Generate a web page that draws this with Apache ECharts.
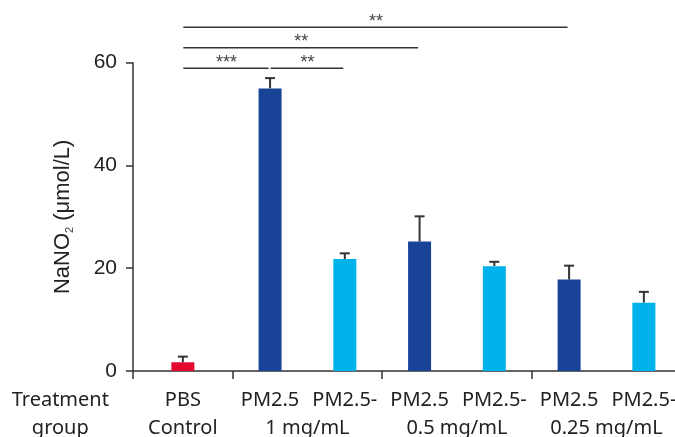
<!DOCTYPE html>
<html>
<head>
<meta charset="utf-8">
<script src="https://cdn.jsdelivr.net/npm/echarts@6/dist/echarts.min.js"></script>
<style>
html,body{margin:0;padding:0;background:#fff;}
#chart{width:675px;height:437px;}
</style>
</head>
<body>
<div id="chart"></div>
<script>
// ---- data ----
const categories = ['PBS Control', 'PM2.5 1 mg/mL', 'PM2.5- 1 mg/mL', 'PM2.5 0.5 mg/mL', 'PM2.5- 0.5 mg/mL', 'PM2.5 0.25 mg/mL', 'PM2.5- 0.25 mg/mL'];
const values = [1.7, 55.0, 21.8, 25.2, 20.4, 17.8, 13.3];
const errors = [1.1, 2.0, 1.1, 4.9, 0.85, 2.7, 2.1];
const yTicks = [0, 20, 40, 60];
const labelLine1 = ['PBS', 'PM2.5', 'PM2.5-', 'PM2.5', 'PM2.5-', 'PM2.5', 'PM2.5-'];
const labelLine2 = ['Control', '1 mg/mL', '0.5 mg/mL', '0.25 mg/mL'];
const axisTitle = 'Treatment\ngroup';
const sigFrom = [0, 0, 0, 1];
const sigTo = [5, 3, 1, 2];
const sigLevel = [66.9, 62.9, 58.9, 58.9];
const sigText = ['**', '**', '***', '**'];

// ---- layout / style (not data) ----
const N_SLOTS = 45;
const SLOT_PX = 12.46;
const BAR_SLOT = [4, 11, 17, 23, 29, 35, 41];
const LINE2_SLOT = [4, 14, 26, 38];
const TICK_SLOT = [0, 8, 20, 32];
const BAR_COLORS = ['#E3062F', '#184396', '#00B2EB', '#184396', '#00B2EB', '#184396', '#00B2EB'];
const AXIS_COLOR = '#333';
const TEXT_COLOR = '#222';

const slots = Array.from({length: N_SLOTS}, (_, i) => String(i));
const line1Map = {}; BAR_SLOT.forEach((s, i) => line1Map[s] = labelLine1[i]);
const line2Map = {}; LINE2_SLOT.forEach((s, i) => line2Map[s] = labelLine2[i]);

const barData = slots.map(() => '-');
BAR_SLOT.forEach((s, i) => {
  barData[s] = {value: values[i], name: categories[i], itemStyle: {color: BAR_COLORS[i]}};
});
const errData = values.map((v, i) => [BAR_SLOT[i], v, errors[i]]);
const sigData = sigFrom.map((f, i) => [BAR_SLOT[f], BAR_SLOT[sigTo[i]], sigLevel[i]]);

const chart = echarts.init(document.getElementById('chart'), null, {renderer: 'canvas'});
const xLabelFont = {fontFamily: 'Noto Sans', fontSize: 20, color: TEXT_COLOR, lineHeight: 28};

chart.setOption({
  animation: false,
  backgroundColor: '#fff',
  grid: {left: 133, top: 62.7, height: 308.3, width: SLOT_PX * (N_SLOTS - 1), containLabel: false, outerBoundsMode: 'none'},
  xAxis: [{
    type: 'category', data: slots, boundaryGap: false, position: 'bottom',
    axisLine: {lineStyle: {color: AXIS_COLOR, width: 1.5}},
    axisTick: {show: true, length: 8, interval: (idx) => TICK_SLOT.includes(idx), lineStyle: {color: AXIS_COLOR, width: 1.5}},
    axisLabel: Object.assign({interval: 0, margin: 15, formatter: (v, idx) => line1Map[idx] || ''}, xLabelFont),
    splitLine: {show: false}
  }, {
    type: 'category', data: slots, boundaryGap: false, position: 'bottom',
    axisLine: {show: false}, axisTick: {show: false},
    axisLabel: Object.assign({interval: 0, margin: 43, formatter: (v, idx) => line2Map[idx] || ''}, xLabelFont),
    splitLine: {show: false}
  }],
  yAxis: {
    type: 'value', min: yTicks[0], max: yTicks[yTicks.length - 1], interval: yTicks[1] - yTicks[0],
    axisLine: {show: true, lineStyle: {color: AXIS_COLOR, width: 1.5}},
    axisTick: {show: true, length: 7, lineStyle: {color: AXIS_COLOR, width: 1.5}},
    axisLabel: {margin: 16, fontFamily: 'Liberation Sans', fontSize: 21, color: TEXT_COLOR},
    splitLine: {show: false},
    name: '{a|NaNO}{s|2}{a| (μmol/L)}',
    nameLocation: 'middle', nameGap: 44, nameRotate: 90,
    nameTextStyle: {
      rich: {
        a: {fontFamily: 'Liberation Sans', fontSize: 22, color: TEXT_COLOR, lineHeight: 24, verticalAlign: 'top', padding: [0, 0, 9, 0]},
        s: {fontFamily: 'Liberation Sans', fontSize: 11, color: '#444', lineHeight: 12, verticalAlign: 'bottom'}
      }
    }
  },
  graphic: [{
    type: 'text', x: 60.3, y: 386.6,
    style: {text: axisTitle, fontFamily: 'Noto Sans', fontSize: 20, lineHeight: 28, fill: TEXT_COLOR, align: 'center', verticalAlign: 'top'}
  }],
  series: [{
    type: 'bar', xAxisIndex: 0, data: barData, barWidth: 23, barGap: '-100%'
  }, {
    type: 'custom', xAxisIndex: 0, clip: false, data: errData,
    renderItem: (params, api) => {
      const x = api.value(0), v = api.value(1), e = api.value(2);
      const base = api.coord([x, v]);
      const top = api.coord([x, v + e]);
      const st = {stroke: AXIS_COLOR, lineWidth: 2};
      return {type: 'group', children: [
        {type: 'line', shape: {x1: base[0], y1: base[1], x2: top[0], y2: top[1]}, style: st},
        {type: 'line', shape: {x1: top[0] - 5, y1: top[1], x2: top[0] + 5, y2: top[1]}, style: st}
      ]};
    }
  }, {
    type: 'custom', xAxisIndex: 0, clip: false, data: sigData,
    renderItem: (params, api) => {
      const a = api.coord([api.value(0), api.value(2)]);
      const b = api.coord([api.value(1), api.value(2)]);
      const x1 = a[0] + 0.5, x2 = b[0] - 1.5;
      return {type: 'group', children: [
        {type: 'line', shape: {x1: x1, y1: a[1], x2: x2, y2: a[1]}, style: {stroke: '#333', lineWidth: 1.5}},
        {type: 'text', x: (a[0] + b[0]) / 2, y: a[1] + 3.5,
         style: {text: sigText[params.dataIndex], fontFamily: 'Liberation Sans', fontSize: 18, fill: '#444', align: 'center', verticalAlign: 'bottom'}}
      ]};
    }
  }]
});
</script>
</body>
</html>
